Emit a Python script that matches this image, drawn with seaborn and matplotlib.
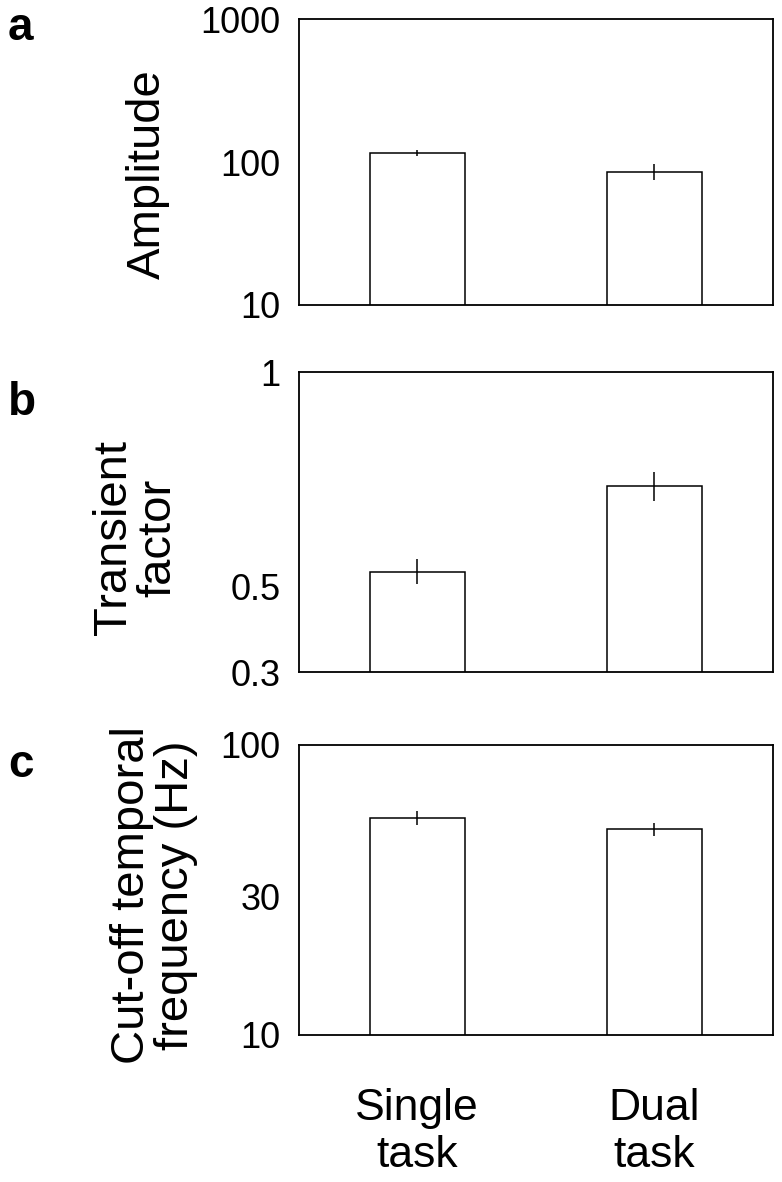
import matplotlib
matplotlib.use("Agg")
import matplotlib.pyplot as plt
import matplotlib.ticker as mticker
import seaborn as sns

sns.set_style("white")
plt.rcParams['font.family'] = ['Liberation Sans', 'DejaVu Sans']
plt.rcParams['text.color'] = 'black'
plt.rcParams['axes.labelcolor'] = 'black'
plt.rcParams['xtick.color'] = 'black'
plt.rcParams['ytick.color'] = 'black'

conditions = ["Single\ntask", "Dual\ntask"]

amplitude = [116, 86]
amplitude_err = [5, 10.5]

transient = [0.534, 0.733]
transient_err = [0.029, 0.034]

cutoff = [56, 51.3]
cutoff_err = [3.0, 2.7]

panel_letters = ["a", "b", "c"]
ylabels = ["Amplitude", "Transient\nfactor", "Cut-off temporal\nfrequency (Hz)"]
yticks_list = [[10, 100, 1000], [0.3, 0.5, 1], [10, 30, 100]]
yticklabels_list = [["10", "100", "1000"], ["0.3", "0.5", "1"], ["10", "30", "100"]]
ylims = [(10, 1000), (0.3, 1), (10, 100)]
yscales = ["log", "linear", "log"]

W, H = 782, 1182
fig = plt.figure(figsize=(W / 100, H / 100), dpi=100)

# pixel boxes: (left, top, right, bottom)
boxes = [(298.5, 19.3, 773, 305), (298.5, 372, 773, 672), (298.5, 745, 773, 1035)]
label_coords = [(-0.271, 0.4585), (-0.2497, 0.447), (-0.2118, 0.483)]
letter_pos = [(8, 40), (8, 415), (8, 777)]

data = [(amplitude, amplitude_err), (transient, transient_err), (cutoff, cutoff_err)]

for i, (l, t, r, b) in enumerate(boxes):
    ax = fig.add_axes([l / W, 1 - b / H, (r - l) / W, (b - t) / H])
    vals, errs = data[i]
    sns.barplot(x=conditions, y=vals, ax=ax, color="white", edgecolor="black",
                linewidth=1.1, width=0.4, errorbar=None, saturation=1)
    ax.errorbar([0, 1], vals, yerr=errs, fmt="none", ecolor="black",
                elinewidth=1.1, capsize=0)
    ax.set_yscale(yscales[i])
    ax.set_ylim(*ylims[i])
    ax.set_xlim(-0.5, 1.5)
    ax.set_yticks(yticks_list[i])
    ax.set_yticklabels(yticklabels_list[i])
    ax.yaxis.set_minor_locator(mticker.NullLocator())
    ax.tick_params(axis="y", length=0, pad=13, labelsize=26)
    ax.set_ylabel(ylabels[i], fontsize=34, linespacing=1.0)
    ax.yaxis.set_label_coords(*label_coords[i])
    for sp in ax.spines.values():
        sp.set_visible(True)
        sp.set_color("black")
        sp.set_linewidth(1.3)
    if i < 2:
        ax.set_xticks([0, 1])
        ax.set_xticklabels([])
        ax.tick_params(axis="x", length=0)
    else:
        ax.tick_params(axis="x", length=0, pad=38, labelsize=32)
        for lab in ax.get_xticklabels():
            lab.set_linespacing(1.2)
    ax.set_xlabel("")
    fig.text(letter_pos[i][0] / W, 1 - letter_pos[i][1] / H, panel_letters[i],
             fontsize=33, fontweight="bold", ha="left", va="baseline")

fig.savefig("out.png", dpi=100)
